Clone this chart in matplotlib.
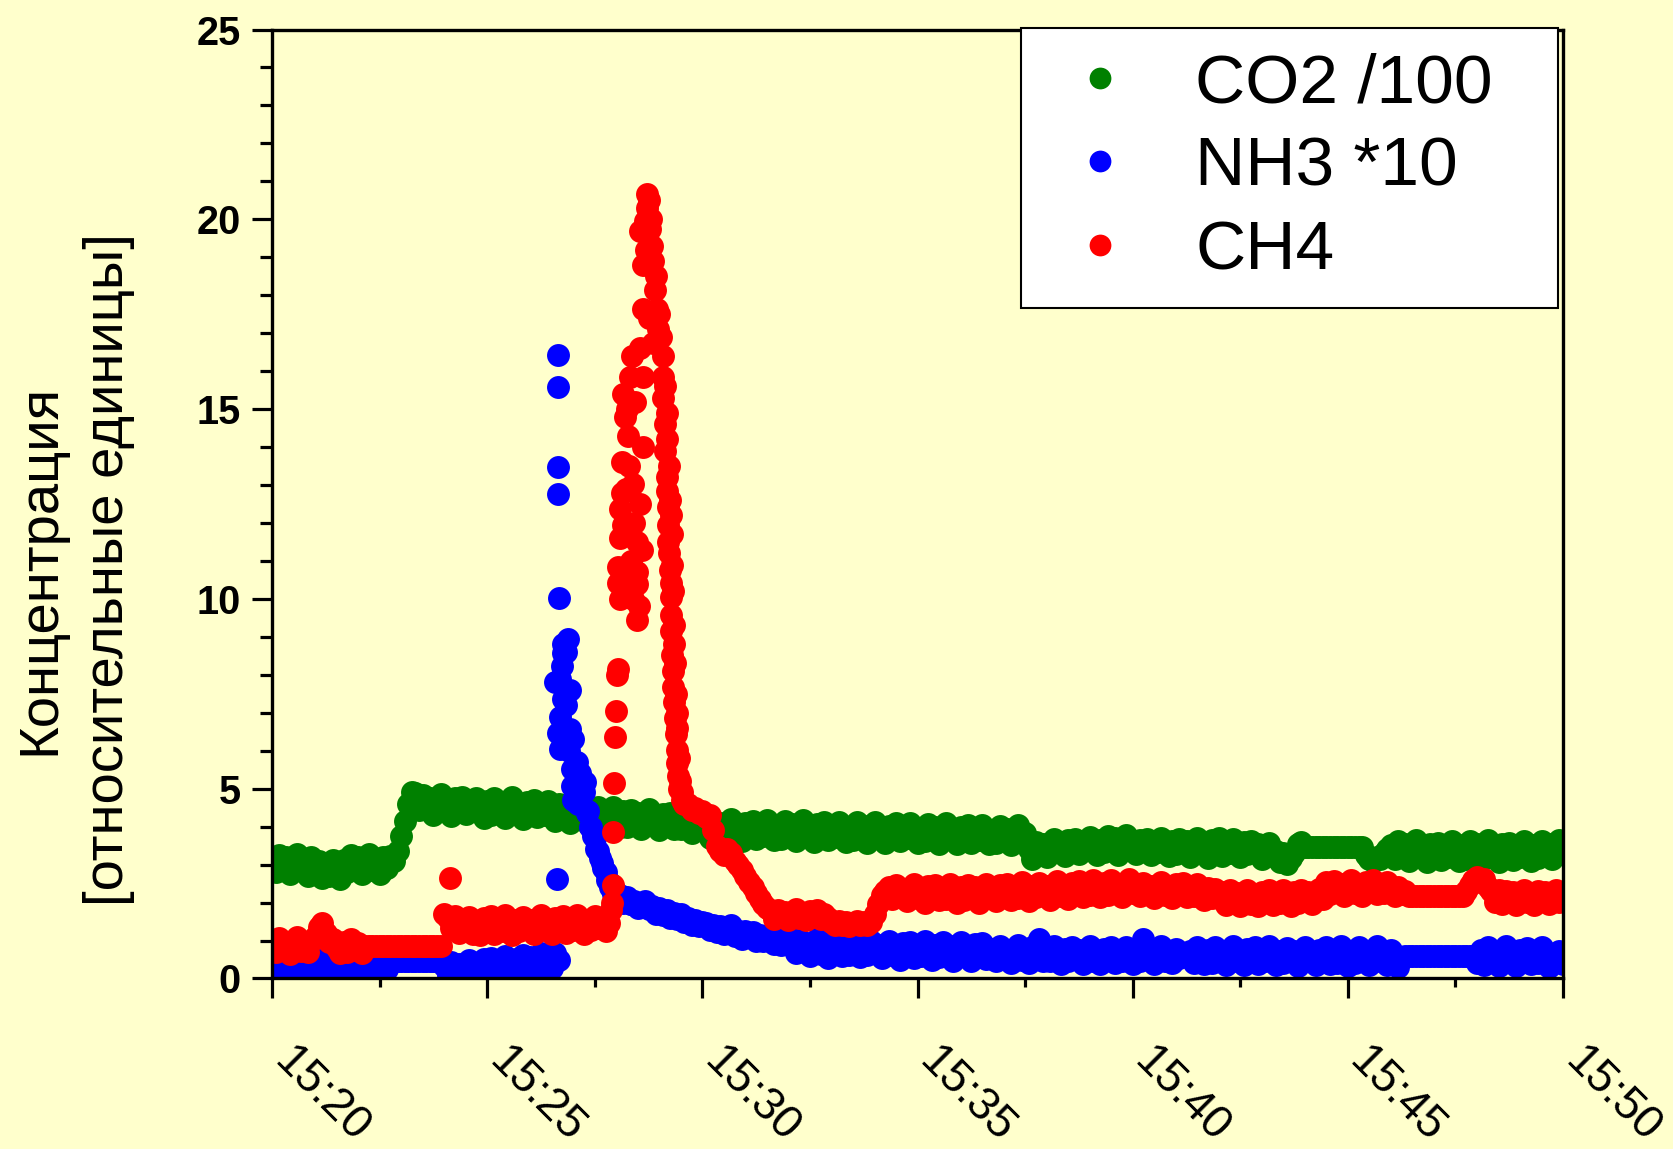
import numpy as np
import matplotlib
matplotlib.use("Agg")
import matplotlib.pyplot as plt
from matplotlib.ticker import MultipleLocator, FuncFormatter

plt.rcParams['font.family'] = ['Liberation Sans', 'DejaVu Sans']


def vals(s):
    return [float(v) for v in s.split()]


# gas analyser readings, one every 5 s from 15:20:00 to 15:50:00
step_s = 5

co2 = (vals("""3.16 2.8 3.26 2.93 3.2 2.74 3.03 3.29 2.87 3.07
               2.71 3.2 2.77 3.1 2.64 2.97 2.71 3.13 2.84 2.61
               3.13 2.8 3.26 2.93 3.2 2.74 3.03 3.29 2.87 3.07
               2.74 3.2 2.9 3.23""")
       + vals("3.1 3.35 3.75 4.15 4.6 4.9")
       + vals("""4.89 4.44 4.83 4.5 4.76 4.31 4.59 4.85 4.44 4.63
                 4.28 4.76 4.44 4.79 4.33 4.66 4.4 4.76 4.5 4.24
                 4.67 4.32 4.75 4.45 4.65 4.23 4.52 4.78 4.36 4.58
                 4.19 4.65 4.36 4.71 4.26 4.58 4.32 4.67""")
       + vals("""4.51 4.16 4.61 4.29 4.52 4.09 4.35 4.61 4.22 4.39
                 4.06 4.47 4.19 4.51 4.08 4.38 4.12 4.51 4.21 3.99
                 4.4 4.0 4.43 4.14 4.36 3.94 4.23 4.46 4.07 4.27
                 3.9 4.33 4.03 4.35 3.94 4.2 3.94 4.29 4.07 3.83
                 4.21 3.91 4.26""")
       + vals("""4.06 3.71 4.16 3.84 4.1 3.64 3.93 4.19 3.77 3.97
                 3.62 4.1 3.8 4.14 3.67 4.01 3.75 4.17 3.88 3.65
                 4.04 3.67 4.14 3.8 4.06 3.62 3.88 4.17 3.75 3.93
                 3.59 4.07 3.79 4.11 3.65 3.98 3.72 4.11 3.85 3.6
                 4.0 3.66 4.12 3.79 4.03 3.58 3.86 4.13 3.71 3.9
                 3.57 4.03 3.75 4.09 3.62 3.96 3.7 4.09 3.83 3.57
                 3.96 3.62 4.07 3.75 3.99 3.55 3.83 4.09 3.68 3.86
                 3.53 3.99 3.71 4.05 3.58 3.92 3.66 4.05 3.79 3.53
                 3.92 3.58 4.03 3.71 3.95 3.51 3.79 4.05 3.64 3.82""")
       + vals("""3.42 3.16 3.59 3.33 3.55 3.2 3.46 3.68 3.33 3.5
                 3.22 3.64 3.35 3.67 3.27 3.57 3.38 3.74 3.44 3.25
                 3.65 3.34 3.75 3.43 3.69 3.26 3.56 3.78 3.39 3.6""")
       + vals("""3.28 3.65 3.36 3.67 3.26 3.58 3.32 3.71 3.45 3.23
                 3.62 3.28 3.67 3.38 3.62 3.19 3.48 3.71 3.32 3.52
                 3.17 3.65 3.35 3.69 3.22 3.56 3.3 3.68 3.43 3.2
                 3.6 3.27 3.63 3.33 3.53 3.14 3.4 3.56 3.24 3.37
                 3.06 3.3 3.02 3.18""")
       + vals("3.3 3.55 3.6")
       + [3.47] * 17
       + vals("3.25 3.15 3.1 3.2 3.15 3.3 3.4")
       + vals("""3.51 3.15 3.61 3.29 3.55 3.09 3.38 3.64 3.22 3.42
                 3.06 3.55 3.25 3.58 3.12 3.45 3.19 3.61 3.32 3.09
                 3.51 3.15 3.61 3.29 3.55 3.09 3.38 3.64 3.22 3.42
                 3.06 3.55 3.25 3.58 3.12 3.45 3.19 3.61 3.32 3.09
                 3.51 3.18 3.61 3.29 3.55 3.16 3.38 3.64 3.29"""))

nh3 = (vals("""0.43 0.12 0.49 0.2 0.43 0.06 0.31 0.53 0.15 0.34
               0.03 0.46 0.18 0.49 0.08 0.38 0.13 0.53 0.26 0.06
               0.43 0.12 0.49 0.2 0.43 0.06 0.31 0.53 0.15 0.34
               0.06 0.46 0.24 0.49""")
       + [0.45] * 14
       + vals("""0.33 0.08 0.43 0.18 0.37 0.05 0.28 0.49 0.15 0.3
                 0.11 0.51 0.26 0.54 0.16 0.46 0.22 0.6 0.35 0.16
                 0.51 0.26 0.61 0.36 0.57 0.24 0.45 0.66 0.32 0.51
                 0.28 0.66 0.5""")
       + vals("8.8 8.6 7.6 6.3 5.7 5.3 4.9 4.4 4.0 3.7 3.35 3.05 2.8 2.55 2.4 2.25")
       + vals("""2.2 2.05 2.15 1.95 2.05 1.85 1.98 2.05 1.82 1.92
                 1.7 1.85 1.68 1.8 1.6 1.72 1.58 1.7 1.5 1.6
                 1.42 1.55 1.38 1.48""")
       + vals("""1.45 1.28 1.42 1.22 1.38 1.18 1.3 1.4 1.12 1.25
                 1.05 1.25 1.08 1.22 1.0 1.15 0.98 1.12 1.02 0.9
                 1.08 0.88 1.05 0.92""")
       + vals("""0.95 0.68 1.03 0.74 0.93 0.58 0.83 1.05 0.65 0.86
                 0.53 0.96 0.71 1.0 0.58 0.91 0.63 1.03 0.78 0.56
                 0.91 0.62 1.0 0.71 0.87 0.54 0.79 1.0 0.62 0.81
                 0.5 0.94 0.67 0.97 0.54 0.84 0.59 1.0 0.72 0.5
                 0.88 0.57 0.95 0.67 0.85 0.47 0.76 0.97 0.6 0.77
                 0.45 0.9 0.62 0.93 0.51 0.79""")
       + vals("""0.78 0.47 0.85 0.57 0.75 0.41 0.66 0.87 0.5 0.7
                 0.41 0.82 0.53 1.03 0.47 0.75 0.45 0.85 0.62 0.37
                 0.78 0.47 0.82 0.53 0.75 0.37 0.62 0.85 0.47 0.66
                 0.37 0.78 0.5 0.82 0.41 0.72 0.47 0.82 0.6 0.37
                 0.75 0.45 1.03 0.53 0.75 0.37 0.62 0.85 0.47 0.66
                 0.41 0.78 0.53 0.6 0.6 0.72 0.41 0.82 0.57 0.37""")
       + vals("""0.76 0.42 0.83 0.51 0.73 0.36 0.61 0.86 0.46 0.67
                 0.36 0.79 0.51 0.83 0.38 0.71 0.46 0.86 0.58 0.36
                 0.73 0.42 0.81 0.51 0.73 0.33 0.58 0.83 0.46 0.63
                 0.36 0.76 0.48 0.83 0.38 0.68 0.42 0.86 0.54 0.33
                 0.73 0.42 0.83 0.48 0.71 0.36 0.61 0.86 0.46 0.66
                 0.36 0.76 0.51 0.3 0.54 0.6 0.6""")
       + [0.6] * 18
       + vals("""0.42 0.76 0.36 0.83 0.48 0.71 0.33 0.61 0.86 0.46
                 0.63 0.33 0.76 0.48 0.81 0.38 0.67 0.42 0.83 0.51
                 0.3 0.63 0.46 0.73 0.38"""))

ch4 = (vals("""1.01 0.69 1.06 0.79 0.97 0.64 0.89 1.1 0.73 0.91
               0.7 1.0 1.1 1.35 1.45 1.2 0.95 1.05 0.8 0.68
               0.97 0.69 1.04 0.76 0.94 0.66 0.85""")
       + [0.85] * 21
       + vals("""1.7 1.59 1.34 1.65 1.21 1.52 1.27 1.62 1.17 1.42
                 1.15 1.59 1.27 1.65 1.17 1.5 1.25 1.67 1.37 1.15
                 1.55 1.25 1.62 1.34 1.55 1.17 1.42 1.67 1.27 1.5
                 1.17 1.59 1.3 1.65 1.21 1.52 1.27 1.67 1.4 1.17
                 1.55 1.27 1.65 1.34 1.59 1.25 1.46""")
       + [np.nan] * 21   # burst logged separately below
       + vals("4.6 4.45 4.5 4.35 4.4 4.25 4.3 3.9 3.5 3.35 3.25 3.4 3.3 3.1 3.0")
       + vals("2.85 2.7 2.55 2.4 2.25 2.1 1.95 1.85")
       + vals("1.78 1.58 1.8 1.62 1.75 1.55 1.7 1.82 1.6 1.72 1.55 1.78 1.62 1.8 1.58 1.7 1.6")
       + vals("1.5 1.4 1.52 1.42 1.48 1.38 1.45 1.52 1.4 1.48 1.42 1.5")
       + vals("1.7 1.95 2.2 2.3")
       + vals("""2.41 2.09 2.46 2.19 2.37 2.04 2.29 2.5 2.13 2.31
                 2.0 2.44 2.16 2.46 2.06 2.37 2.09 2.5 2.25 2.0
                 2.41 2.08 2.46 2.18 2.41 2.0 2.28 2.5 2.12 2.33
                 2.03 2.45 2.18 2.49 2.08 2.4 2.11 2.53 2.28 2.05
                 2.44 2.14 2.52 2.23 2.44 2.07 2.32 2.57 2.17 2.39
                 2.1 2.51 2.22 2.56 2.14 2.47 2.19 2.6 2.35 2.14
                 2.52 2.21 2.59 2.28 2.5 2.15 2.4 2.62 2.25""")
       + vals("""2.48 2.17 2.52 2.23 2.44 2.11 2.35 2.54 2.2 2.39
                 2.11 2.48 2.23 2.52 2.14 2.42 2.17 2.48 2.29 2.07
                 2.39 2.11 2.35 2.17""")
       + vals("""2.28 1.94 2.32 2.03 2.24 1.9 2.12 2.34 1.97 2.15
                 1.9 2.28 2.03 2.32 1.94 2.22 1.99 2.34 2.12 1.9
                 2.28 1.99 2.34 2.07 2.28 1.97 2.15 2.37 2.09""")
       + vals("""2.53 2.22 2.56 2.28 2.5 2.18 2.41 2.59 2.26 2.43
                 2.16 2.53 2.31 2.59 2.22 2.47 2.26 2.53 2.34 2.16
                 2.41 2.22 2.3 2.18""")
       + [2.18] * 15
       + vals("2.3 2.45 2.6 2.68 2.55 2.62 2.4 2.3")
       + vals("""2.02 2.34 1.96 2.31 2.02 2.27 1.94 2.21 2.34 2.02
                 2.24 1.94 2.31 2.06 2.27 1.96 2.19 2.34 2.02 2.21"""))

assert len(co2) == len(nh3) == len(ch4) == 361, (len(co2), len(nh3), len(ch4))

# fast readings during the bursts (seconds after 15:20:00)
nh3_burst_t = [397, 399, 399, 399, 399, 400,
               412, 406, 404, 395, 401, 406, 401, 399, 401, 416, 418, 430, 418, 436, 420,
               439, 448, 457, 467, 475, 490, 513,
               410, 414, 423, 427, 444, 452, 462, 471, 482, 500]
nh3_burst_v = [2.63, 16.43, 15.57, 13.47, 12.76, 10.03,
               8.94, 8.57, 8.23, 7.82, 7.89, 7.35, 6.89, 6.47, 6.05, 6.58, 5.52, 5.41, 5.06, 5.18, 4.70,
               4.36, 3.76, 3.17, 2.59, 2.23, 2.0, 1.88,
               7.2, 6.0, 5.0, 4.6, 4.0, 3.4, 2.9, 2.4, 2.1, 1.95]

ch4_burst_t = [248,
               473, 474, 475, 476, 477, 478, 479, 481, 482,
               482, 482, 485, 509, 509, 509, 503, 495,
               488, 485, 503, 513, 485, 509, 516, 490,
               488, 496, 517, 495, 490, 499, 502, 517, 513,
               492, 498, 505, 500, 487, 511, 494, 506,
               523, 523, 520, 527, 513, 530, 531, 517, 534, 517, 537, 538, 531, 545,
               525, 528, 522, 535, 540, 542, 526,
               545, 545, 548, 548, 550, 551, 552, 552, 552, 554, 555, 556, 556, 556, 556, 558,
               559, 559, 560, 562, 563, 565, 565, 566, 568, 572,
               548, 550, 551, 553, 555, 556, 557, 558, 559, 560, 561, 562, 563, 564, 565, 567,
               569, 571, 574]
ch4_burst_v = [2.66,
               1.8, 2.0, 2.45, 3.86, 5.15, 6.35, 7.05, 8.0, 8.15,
               10.84, 10.42, 10.0, 10.7, 10.4, 9.45, 10.0, 10.27,
               12.8, 12.37, 13.03, 12.5, 11.6, 11.5, 11.3, 11.95,
               13.6, 14.3, 14.0, 15.0, 15.4, 15.85, 16.4, 15.85, 16.6,
               14.8, 13.5, 12.0, 11.0, 10.5, 9.8, 12.9, 15.2,
               20.66, 20.3, 19.95, 19.74, 19.7, 19.3, 18.9, 18.8, 18.15, 17.65, 17.65, 17.1, 16.75, 16.4,
               20.5, 20.0, 19.2, 18.5, 17.5, 16.9, 17.4,
               15.85, 15.3, 14.6, 13.9, 13.2, 12.85, 12.43, 11.95, 11.5, 11.2, 10.76, 10.42, 10.06, 9.57,
               9.15, 8.52,
               8.11, 7.69, 7.28, 6.86, 6.44, 6.02, 5.67, 5.33, 4.98, 4.70,
               15.6, 14.9, 14.2, 13.5, 12.6, 12.2, 11.7, 10.9, 10.2, 9.3, 8.8, 8.3, 7.5, 7.0, 6.6, 5.8,
               5.2, 4.9, 4.6]

t_min = np.arange(len(co2)) * step_s / 60.0

bg = '#ffffcc'
fig = plt.figure(figsize=(16.73, 11.49), dpi=100, facecolor=bg)
ax = fig.add_axes([0.1626, 0.1484, 0.7717, 0.8259])
ax.set_facecolor(bg)

ms = 16.5
ax.plot(t_min, co2, 'o', ls='none', color='#008000', ms=ms, mew=0, label='CO2 /100')
ax.plot(np.r_[t_min, np.array(nh3_burst_t) / 60.0], np.r_[nh3, nh3_burst_v],
        'o', ls='none', color='#0000ff', ms=ms, mew=0, label='NH3 *10')
ax.plot(np.r_[t_min, np.array(ch4_burst_t) / 60.0], np.r_[ch4, ch4_burst_v],
        'o', ls='none', color='#ff0000', ms=ms, mew=0, label='CH4')

ax.set_xlim(0, 30)
ax.set_ylim(0, 25)

ax.xaxis.set_major_locator(MultipleLocator(5))
ax.xaxis.set_minor_locator(MultipleLocator(2.5))
ax.yaxis.set_major_locator(MultipleLocator(5))
ax.yaxis.set_minor_locator(MultipleLocator(1))
ax.xaxis.set_major_formatter(FuncFormatter(lambda m, pos: "15:%02d" % (20 + int(round(m)))))

for s in ax.spines.values():
    s.set_linewidth(2.4)

ax.tick_params(which='both', direction='out', width=2.3, color='black')
ax.tick_params(which='major', length=14.5)
ax.tick_params(axis='x', which='minor', length=6.5)
ax.tick_params(axis='y', which='minor', length=8.6)
ax.tick_params(axis='y', labelsize=28.5, pad=8)
ax.tick_params(axis='x', labelsize=33, pad=46)
for lab in ax.get_yticklabels():
    lab.set_fontweight('bold')
for lab in ax.get_xticklabels():
    lab.set_rotation(-45)
    lab.set_ha('left')
    lab.set_va('baseline')
    lab.set_rotation_mode('anchor')

leg = ax.legend(loc='upper left', bbox_to_anchor=(0.5802, 0.70, 0.416, 0.3016), mode='expand',
                borderaxespad=0, fontsize=50, fancybox=False, framealpha=1,
                facecolor='white', edgecolor='black',
                borderpad=0.35, labelspacing=0.28, handlelength=1.58, handletextpad=0.58,
                numpoints=1, markerscale=0.95)
leg.get_frame().set_linewidth(1.5)

fig.text(0.0445, 0.504, 'Концентрация\n[относительные единицы]', rotation=90,
         ha='center', va='center', multialignment='center', fontsize=40.5, linespacing=1.42)

fig.savefig('out.png', dpi=100, facecolor=bg)
